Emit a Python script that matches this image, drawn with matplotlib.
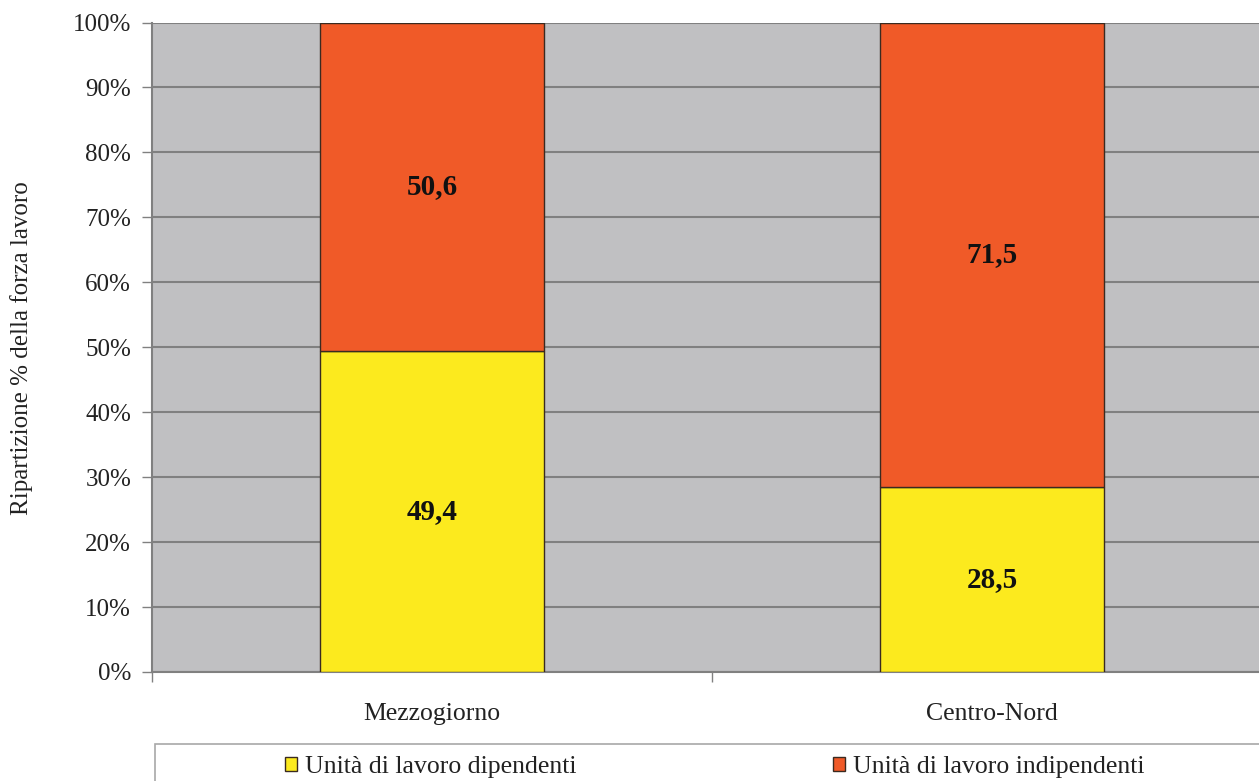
import matplotlib
matplotlib.use("Agg")
import matplotlib.pyplot as plt
from matplotlib.patches import Rectangle
from matplotlib.ticker import FixedLocator, PercentFormatter

categories = ["Mezzogiorno", "Centro-Nord"]
dipendenti = [49.4, 28.5]
indipendenti = [50.6, 71.5]
series_names = ["Unità di lavoro dipendenti", "Unità di lavoro indipendenti"]
labels_dip = ["49,4", "28,5"]
labels_ind = ["50,6", "71,5"]
yticks = [0, 10, 20, 30, 40, 50, 60, 70, 80, 90, 100]

plt.rcParams['font.family'] = ['Liberation Serif', 'DejaVu Serif']

W, H = 1259, 781
fig = plt.figure(figsize=(W / 100, H / 100), dpi=100)
fig.patch.set_facecolor("white")

left = 152 / W
bottom = (H - 672) / H
top = (H - 22.5) / H
ax = fig.add_axes([left, bottom, 1120 / W, top - bottom])
ax.set_facecolor("#C0C0C2")

yellow = "#FCEA1E"
orange = "#F05A28"
edge = "#3a2a20"
x = [0, 1]
b1 = ax.bar(x, dipendenti, width=0.4, color=yellow, edgecolor=edge, linewidth=1.0,
            label=series_names[0], zorder=3)
b2 = ax.bar(x, indipendenti, width=0.4, bottom=dipendenti, color=orange, edgecolor=edge,
            linewidth=1.0, label=series_names[1], zorder=3)

for i in range(2):
    ax.text(x[i], dipendenti[i] / 2, labels_dip[i], ha="center", va="center",
            fontsize=21, fontweight="bold", color="#111111", zorder=4)
    ax.text(x[i], dipendenti[i] + indipendenti[i] / 2, labels_ind[i], ha="center",
            va="center", fontsize=21, fontweight="bold", color="#111111", zorder=4)

ax.set_xlim(-0.5, 1.5)
ax.set_ylim(0, 100)
ax.set_yticks(yticks)
ax.yaxis.set_major_formatter(PercentFormatter(decimals=0))
ax.yaxis.grid(True, color="#808080", linewidth=1.5, zorder=1)
ax.set_axisbelow(True)

ax.set_xticks(x)
ax.set_xticklabels(categories)
ax.xaxis.set_minor_locator(FixedLocator([-0.5, 0.5, 1.5]))
ax.tick_params(axis="x", which="major", length=0, pad=22, labelsize=18.5, labelcolor="#222222")
ax.tick_params(axis="x", which="minor", length=7, width=1, color="#808080", direction="out")
ax.tick_params(axis="y", length=7, width=1, color="#808080", direction="out",
               labelsize=18, labelcolor="#222222", pad=8)

for s in ["top", "right"]:
    ax.spines[s].set_visible(False)
for s in ["left", "bottom"]:
    ax.spines[s].set_color("#808080")
    ax.spines[s].set_linewidth(1.5)

fig.text(22 / W, 1 - 348 / H, "Ripartizione % della forza lavoro", rotation=90,
         ha="center", va="center", fontsize=18, color="#222222")

# legend frame
fig.patches.append(Rectangle((155 / W, -0.1), 1.2, 0.1 + 37 / H, transform=fig.transFigure,
                             fill=False, edgecolor="#A8A8A8", linewidth=1.2))
leg = fig.legend(handles=[b1, b2], labels=series_names, loc="center left",
                 bbox_to_anchor=(285 / W, 1 - 767 / H), ncol=2, frameon=False,
                 fontsize=18.5, handlelength=0.47, handleheight=0.47, handletextpad=0.3,
                 columnspacing=10.0, borderpad=0, borderaxespad=0)
for t in leg.get_texts():
    t.set_color("#222222")

fig.savefig("out.png", dpi=100)
